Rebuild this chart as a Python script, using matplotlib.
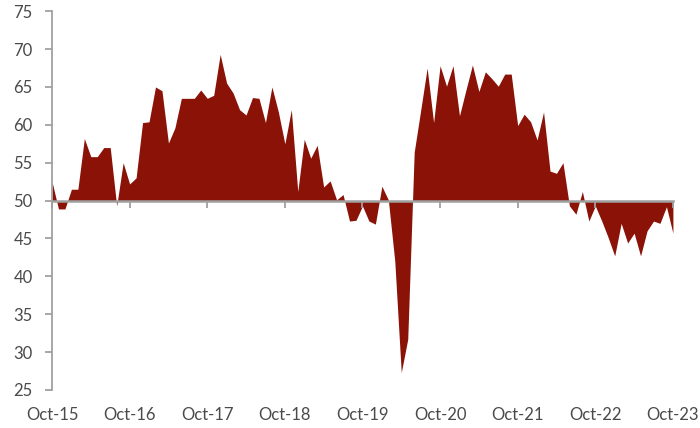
import matplotlib
matplotlib.use("Agg")
import matplotlib.pyplot as plt
import numpy as np

# monthly index values, Oct-15 .. Oct-23
values = [
    52.5, 48.9, 48.9, 51.5, 51.5, 58.2, 55.8, 55.8, 57.0, 57.0, 49.3, 55.0,
    52.2, 53.0, 60.3, 60.4, 65.0, 64.5, 57.6, 59.6, 63.5, 63.5, 63.5, 64.6,
    63.5, 63.9, 69.3, 65.5, 64.2, 62.0, 61.3, 63.6, 63.5, 60.3, 65.0, 61.7,
    57.5, 62.0, 51.2, 58.1, 55.6, 57.3, 51.8, 52.6, 50.1, 50.8, 47.3, 47.4,
    49.3, 47.3, 46.9, 51.9, 50.1, 42.0, 27.3, 31.7, 56.4, 61.9, 67.5, 60.3,
    67.8, 65.1, 67.8, 61.2, 64.6, 67.9, 64.4, 67.0, 66.1, 65.1, 66.7, 66.7,
    59.9, 61.4, 60.4, 58.0, 61.7, 53.9, 53.6, 55.0, 49.3, 48.2, 51.2, 47.3,
    49.3, 47.3, 45.1, 42.7, 47.0, 44.4, 45.7, 42.7, 46.0, 47.3, 47.0, 49.2,
    45.7,
]
tick_labels = ["Oct-15", "Oct-16", "Oct-17", "Oct-18", "Oct-19",
               "Oct-20", "Oct-21", "Oct-22", "Oct-23"]
baseline = 50

plt.rcParams["font.family"] = ["Lato", "DejaVu Sans"]

x = np.arange(len(values))
y = np.array(values)

fig = plt.figure(figsize=(7, 4.28), dpi=100)
ax = fig.add_axes([0.0743, 0.0888, 0.887, 0.885])

ax.fill_between(x, y, baseline, interpolate=True, color="#8B1206", linewidth=0)

ax.set_xlim(0, len(values) - 1)
ax.set_ylim(25, 75)
ax.set_yticks(range(25, 80, 5))

axis_grey = "#A0A0A0"
text_grey = "#4A4A4A"

for s in ("top", "right"):
    ax.spines[s].set_visible(False)
ax.spines["left"].set_color(axis_grey)
ax.spines["left"].set_linewidth(1.3)
ax.spines["bottom"].set_position(("data", baseline))
ax.spines["bottom"].set_color(axis_grey)
ax.spines["bottom"].set_linewidth(1.8)
ax.spines["bottom"].set_zorder(3)

year_ticks = np.arange(0, len(values), 12)
ax.set_xticks(year_ticks)
ax.set_xticklabels([])
ax.tick_params(axis="x", direction="out", length=5, width=1.3, color=axis_grey)
ax.tick_params(axis="y", direction="out", length=5, width=1.3, color=axis_grey,
               labelsize=12, labelcolor=text_grey, pad=9)

# labels sit at the bottom of the chart, not on the 50 line
sec = ax.secondary_xaxis(0)
sec.set_xticks(year_ticks)
sec.set_xticklabels(tick_labels)
sec.spines["bottom"].set_visible(False)
sec.tick_params(axis="x", length=0, labelsize=12, labelcolor=text_grey, pad=12)

plt.savefig("out.png", dpi=100)
